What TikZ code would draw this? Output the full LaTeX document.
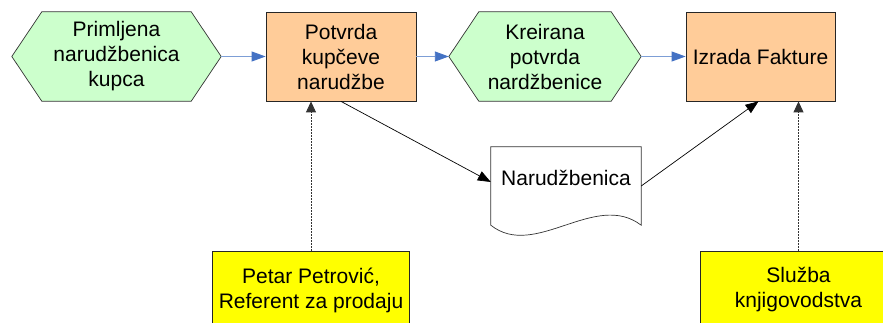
\documentclass[tikz,border=0pt]{standalone}
\usepackage{fontspec}
\setmainfont{Liberation Sans}
\usetikzlibrary{arrows.meta,backgrounds,calc}
\definecolor{hexgreen}{RGB}{204,255,204}
\definecolor{peach}{RGB}{255,204,153}
\definecolor{flowline}{RGB}{125,158,214}
\definecolor{flowhead}{RGB}{68,114,196}
\definecolor{roleyellow}{RGB}{255,255,0}
\tikzset{
  txt/.style={font=\fontsize{21}{25}\selectfont, align=center, text=black},
  hexnode/.style={txt, inner sep=0pt, minimum height=89pt},
  hexdraw/.style={draw=black!80, line width=0.7pt, fill=hexgreen},
  procbox/.style={txt, draw=black!85, line width=0.8pt, fill=peach, minimum width=150pt, minimum height=89pt, inner sep=0pt},
  rolebox/.style={txt, draw=black!85, line width=0.8pt, fill=roleyellow, minimum width=197pt, minimum height=78pt, inner sep=0pt},
  docnode/.style={txt, inner sep=0pt, minimum width=150pt, minimum height=78pt, text depth=16pt},
  flow/.style={draw=flowline, line width=0.9pt, -{Triangle[length=14pt,width=10pt,color=flowhead]}},
  dataflow/.style={draw=black, line width=0.7pt, -{Triangle[length=13pt,width=10pt]}},
  actor/.style={draw=black!80, line width=0.8pt, dash pattern=on 1.5pt off 1.5pt, -{Triangle[length=11pt,width=10pt]}},
}
\begin{document}
\begin{tikzpicture}[x=1pt,y=-1pt]
\useasboundingbox (0,0) rectangle (883,323);
% hexagons (events)
\node[hexnode, minimum width=209pt] (h1) at (116.5,56.5) {Primljena\\narudžbenica\\kupca};
\node[hexnode, minimum width=192pt] (h2) at (545,56.5) {Kreirana\\potvrda\\nardžbenice};
\begin{scope}[on background layer]
\foreach \h in {h1,h2}{
  \draw[hexdraw] (\h.west) -- ([xshift=30pt]\h.north west) -- ([xshift=-30pt]\h.north east)
    -- (\h.east) -- ([xshift=-30pt]\h.south east) -- ([xshift=30pt]\h.south west) -- cycle;
}
\end{scope}
% processes
\node[procbox] (p1) at (341,56.5) {Potvrda\\kupčeve\\narudžbe};
\node[procbox, minimum width=149pt] (p2) at (760.5,56.5) {Izrada Fakture};
% document
\node[docnode] (doc) at (566,186) {Narudžbenica};
\begin{scope}[on background layer]
\draw[draw=black!80, line width=0.7pt, fill=white] (doc.south west) -- (doc.north west) -- (doc.north east) -- (doc.south east)
  .. controls ($(doc.south east)+(-46,-35)$) and ($(doc.south west)+(44,35)$) .. (doc.south west) -- cycle;
\end{scope}
% roles
\node[rolebox] (r1) at (311,290) {Petar Petrović,\\Referent za prodaju};
\node[rolebox] (r2) at (798.5,290) {Služba\\knjigovodstva};
% connectors
\draw[flow] (h1.east) -- (p1.west);
\draw[flow] (p1.east) -- (h2.west);
\draw[flow] (h2.east) -- (p2.west);
\draw[dataflow] (p1.south) -- ([yshift=4pt]doc.west);
\draw[dataflow] (doc.east) -- ([xshift=-2pt]p2.south);
\draw[actor] (r1.north) -- (r1.north |- p1.south);
\draw[actor] (r2.north) -- (r2.north |- p2.south);
\end{tikzpicture}
\end{document}
